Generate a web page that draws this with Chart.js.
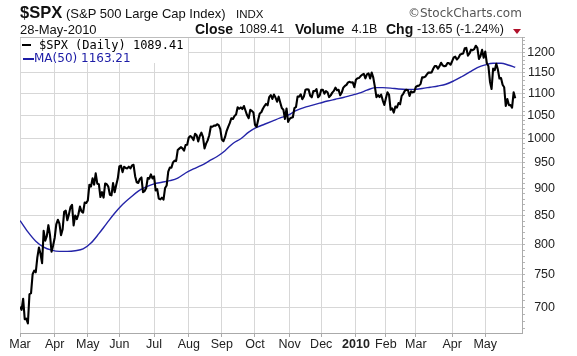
<!DOCTYPE html>
<html>
<head>
<meta charset="utf-8">
<script src="https://cdn.jsdelivr.net/npm/chart.js@4.4.1/dist/chart.umd.min.js"></script>
<style>
  html, body { margin: 0; padding: 0; background: #fff; }
  #wrap { position: relative; width: 577px; height: 356px; overflow: hidden; background: #fff; }
  #c { position: absolute; left: 0; top: 0; }
  .t { position: absolute; white-space: nowrap; line-height: 1; color: #111; font-family: 'Liberation Sans', Arial, sans-serif; }
  .b { font-weight: bold; }
  #legend { position: absolute; left: 21px; top: 38px; width: 167px; height: 25px; background: #fff; }
  .dash { position: absolute; }
  #tri { position: absolute; left: 513px; top: 29px; width: 0; height: 0;
         border-left: 4px solid transparent; border-right: 4px solid transparent; border-top: 5px solid #b0102a; }
</style>
</head>
<body>
<div id="wrap">
  <canvas id="c" width="577" height="356"></canvas>

  <div class="t b" style="left:20px; top:4px; font-size:16.5px;">$SPX</div>
  <div class="t" style="left:66px; top:7.3px; font-size:13px;">(S&amp;P 500 Large Cap Index)</div>
  <div class="t" style="left:236px; top:8.6px; font-size:11.5px;">INDX</div>
  <div class="t" style="left:408px; top:7.2px; font-size:12px; color:#555; font-family:'DejaVu Sans', sans-serif;">&copy;StockCharts.com</div>

  <div class="t" style="left:20px; top:23.3px; font-size:13px;">28-May-2010</div>
  <div class="t b" style="left:195px; top:21.5px; font-size:14px;">Close</div>
  <div class="t" style="left:239px; top:22.9px; font-size:12.5px;">1089.41</div>
  <div class="t b" style="left:295px; top:21.5px; font-size:14px;">Volume</div>
  <div class="t" style="left:351.5px; top:22.9px; font-size:12.5px;">4.1B</div>
  <div class="t b" style="left:386px; top:21.5px; font-size:14px;">Chg</div>
  <div class="t" style="left:417px; top:22.9px; font-size:12.5px;">-13.65 (-1.24%)</div>
  <div id="tri"></div>

  <div id="legend">
    <div class="dash" style="left:1px; top:5.5px; width:9px; height:2.5px; background:#000;"></div>
    <div class="t" style="left:18px; top:1.2px; font-size:12px; font-family:'DejaVu Sans Mono', monospace; color:#000;">$SPX (Daily) 1089.41</div>
    <div class="dash" style="left:1.5px; top:20px; width:11px; height:2px; background:#1c1ca6;"></div>
    <div class="t" style="left:13px; top:14.3px; font-size:12px; font-family:'DejaVu Sans', sans-serif; color:#1c1ca6;">MA(50) 1163.21</div>
  </div>
</div>

<script>
// ---------- DATA ----------
// Trading-day index of the first session of each month (0 = 2-Mar-2009)
const monthTicks  = [0, 22, 43, 63, 85, 107, 128, 149, 171, 191, 213, 232, 251, 274, 295];
const monthLabels = ['Mar','Apr','May','Jun','Jul','Aug','Sep','Oct','Nov','Dec','2010','Feb','Mar','Apr','May'];

// Price axis tick labels (log scale)
const priceTicks = [700, 750, 800, 850, 900, 950, 1000, 1050, 1100, 1150, 1200];

// $SPX daily closes, one per trading day from 2-Mar-2009 to 28-May-2010
const spxClose = [
  // Mar 2009
  700.82, 696.33, 712.87, 682.55, 683.38, 676.53, 719.60, 721.36, 750.74, 756.55, 753.89,
  778.12, 794.35, 784.04, 768.54, 822.92, 806.12, 813.88, 832.86, 815.94, 787.53, 797.87,
  // Apr 2009
  811.08, 834.38, 842.50, 835.48, 815.55, 825.16, 856.56, 858.73, 841.50, 852.06, 865.30,
  869.60, 832.39, 850.08, 843.55, 851.92, 866.23, 857.51, 855.16, 873.64, 872.81,
  // May 2009
  877.52, 907.24, 903.80, 919.53, 907.39, 929.23, 909.24, 908.35, 883.92, 893.07,
  882.88, 909.71, 908.13, 903.47, 888.33, 887.00, 910.33, 893.06, 906.83, 919.14,
  // Jun 2009
  942.87, 944.74, 931.76, 942.46, 940.09, 939.14, 942.43, 939.15, 944.89, 946.21, 923.72,
  911.97, 910.71, 918.37, 921.23, 893.04, 895.10, 900.94, 920.26, 918.90, 927.23, 919.32,
  // Jul 2009
  923.33, 896.42, 898.72, 881.03, 879.56, 882.68, 879.13, 901.05, 905.84, 932.68, 940.74,
  940.38, 951.13, 954.58, 954.07, 976.29, 979.26, 982.18, 979.62, 975.15, 986.75, 987.48,
  // Aug 2009
  1002.63, 1005.65, 1002.72, 997.08, 1010.48, 1007.10, 994.35, 1005.81, 1012.73, 1004.09,
  979.73, 989.67, 996.46, 1007.37, 1026.13, 1025.57, 1028.00, 1028.12, 1030.98, 1028.93, 1020.62,
  // Sep 2009
  998.04, 994.75, 1003.24, 1016.40, 1025.39, 1033.37, 1044.14, 1042.73, 1049.34, 1052.63,
  1068.76, 1065.49, 1068.30, 1064.66, 1071.66, 1060.87, 1050.78, 1044.38, 1062.98, 1060.61, 1057.08,
  // Oct 2009
  1029.85, 1025.21, 1040.46, 1054.72, 1057.58, 1065.48, 1071.49, 1076.19, 1073.19, 1092.02, 1096.56,
  1087.68, 1097.91, 1091.06, 1081.40, 1092.91, 1079.60, 1066.95, 1063.41, 1042.63, 1066.11, 1036.19,
  // Nov 2009
  1042.88, 1045.41, 1046.50, 1066.63, 1069.30, 1093.08, 1093.01, 1098.51, 1087.24, 1093.48,
  1109.30, 1110.32, 1109.80, 1094.90, 1091.38, 1106.24, 1105.65, 1110.63, 1091.49, 1095.63,
  // Dec 2009
  1108.86, 1109.24, 1099.92, 1105.98, 1103.25, 1091.94, 1095.95, 1102.35, 1106.41, 1114.11, 1107.93,
  1109.18, 1096.08, 1102.47, 1114.05, 1118.02, 1120.59, 1126.48, 1127.78, 1126.20, 1126.42, 1115.10,
  // Jan 2010
  1132.99, 1136.52, 1137.14, 1141.69, 1144.98, 1146.98, 1136.22, 1145.68, 1148.46, 1136.03,
  1150.23, 1138.04, 1116.48, 1091.76, 1096.78, 1092.17, 1097.50, 1084.53, 1073.87,
  // Feb 2010
  1089.19, 1103.32, 1097.28, 1063.11, 1066.19, 1056.74, 1070.52, 1068.13, 1078.47, 1075.51,
  1094.87, 1099.51, 1106.75, 1109.17, 1108.01, 1094.60, 1105.24, 1102.94, 1104.49,
  // Mar 2010
  1115.71, 1118.31, 1118.79, 1122.97, 1138.70, 1138.50, 1140.45, 1145.61, 1150.24, 1149.99, 1150.51, 1159.46,
  1166.21, 1165.83, 1159.90, 1165.81, 1174.17, 1167.72, 1165.73, 1166.59, 1173.22, 1173.27, 1169.43,
  // Apr 2010
  1178.10, 1187.44, 1189.44, 1182.45, 1186.44, 1194.37, 1196.48, 1197.30, 1210.65, 1211.67, 1192.13,
  1197.52, 1207.17, 1205.94, 1208.67, 1217.28, 1212.05, 1183.71, 1191.36, 1206.78, 1186.69,
  // May 2010
  1202.26, 1173.60, 1165.87, 1128.15, 1110.88, 1159.73, 1155.79, 1171.67, 1157.44, 1135.68,
  1136.94, 1120.80, 1115.05, 1071.59, 1087.69, 1073.65, 1074.03, 1067.95, 1103.06, 1089.41
];

// MA(50), at these trading-day indices
const maDay = [0, 5, 10, 15, 20, 25, 30, 35, 40, 45, 50, 55, 60, 65, 70, 75, 80, 85, 90, 95,
  100, 105, 110, 115, 120, 125, 130, 135, 140, 145, 150, 155, 160, 165, 170, 175, 180, 185, 190, 195,
  200, 205, 210, 215, 220, 225, 230, 235, 240, 245, 250, 255, 260, 265, 270, 275, 280, 285, 290, 295,
  300, 305, 310, 314];
const ma50 = [841, 821, 805, 795, 790, 788, 788, 789, 792, 802, 818, 836, 854, 870, 883, 895, 903, 909, 912, 915,
  920, 930, 938, 945, 954, 963, 975, 990, 1000, 1014, 1024, 1031, 1038, 1045, 1051, 1061, 1068, 1073, 1078, 1083,
  1087, 1091, 1096, 1101, 1108, 1114, 1114, 1113, 1111, 1110, 1110, 1112, 1115, 1118, 1122, 1130, 1140, 1151, 1162, 1169,
  1173, 1173, 1168, 1163.21];

// ---------- CHART ----------
const tickFont = { family: "'Liberation Sans', Arial, sans-serif", size: 12.5 };
const boldFont = { family: "'Liberation Sans', Arial, sans-serif", size: 12.5, weight: 'bold' };

const minorTicks = [];
for (let v = 670; v <= 1240; v += 10) minorTicks.push(v);

const topBorder = {
  id: 'topBorder',
  afterDraw(chart) {
    const { ctx, chartArea: a } = chart;
    ctx.save();
    ctx.strokeStyle = '#bdbdbd';
    ctx.lineWidth = 1;
    ctx.beginPath();
    ctx.moveTo(a.left, a.top + 0.5);
    ctx.lineTo(a.right, a.top + 0.5);
    ctx.stroke();
    ctx.restore();
  }
};

new Chart(document.getElementById('c'), {
  type: 'line',
  data: {
    datasets: [
      {
        label: 'MA(50)',
        data: maDay.map((d, i) => ({ x: d, y: ma50[i] })),
        borderColor: '#2424a8',
        borderWidth: 1.4,
        pointRadius: 0,
        cubicInterpolationMode: 'monotone',
        order: 2
      },
      {
        label: '$SPX (Daily)',
        data: spxClose.map((v, i) => ({ x: i, y: v })),
        borderColor: '#000',
        borderWidth: 2.1,
        pointRadius: 0,
        tension: 0,
        borderJoinStyle: 'round',
        order: 1
      }
    ]
  },
  options: {
    responsive: false,
    animation: false,
    devicePixelRatio: 1,
    layout: { padding: { top: 37, left: 20, right: 22, bottom: 0 } },
    plugins: { legend: { display: false }, tooltip: { enabled: false } },
    scales: {
      x: {
        type: 'linear',
        min: 0,
        max: 318.3,
        afterBuildTicks: s => { s.ticks = monthTicks.map(v => ({ value: v })); },
        afterFit: s => { s.height = 23; },
        ticks: {
          autoSkip: false,
          maxRotation: 0,
          padding: 0,
          color: '#222',
          font: ctx => (ctx.tick && ctx.tick.value === 213) ? boldFont : tickFont,
          callback: (v) => { const k = monthTicks.indexOf(v); return k >= 0 ? monthLabels[k] : ''; }
        },
        grid: { color: '#d7d7d7', tickColor: '#aaa', tickLength: 4 },
        border: { color: '#aaa' }
      },
      y: {
        type: 'logarithmic',
        position: 'right',
        min: 663,
        max: 1240,
        afterBuildTicks: s => { s.ticks = minorTicks.map(v => ({ value: v })); },
        afterFit: s => { s.width = 33; },
        ticks: {
          autoSkip: false,
          padding: 2,
          crossAlign: 'far',
          color: '#222',
          font: tickFont,
          callback: v => priceTicks.includes(v) ? String(v) : ''
        },
        grid: {
          color: ctx => (ctx.tick && priceTicks.includes(ctx.tick.value)) ? '#d7d7d7' : 'rgba(0,0,0,0)',
          tickColor: '#b5b5b5',
          tickLength: 3
        },
        border: { color: '#aaa' }
      }
    }
  },
  plugins: [topBorder]
});
</script>
</body>
</html>
